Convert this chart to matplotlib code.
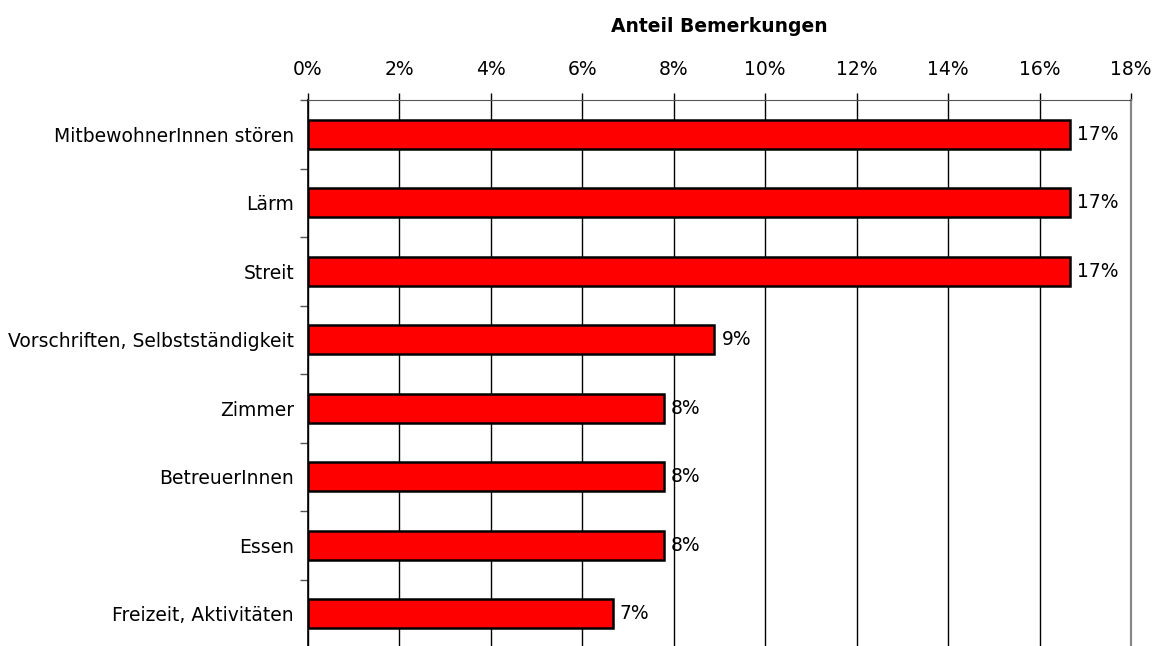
import matplotlib
matplotlib.use("Agg")
import matplotlib.pyplot as plt
from matplotlib.ticker import FixedLocator, FuncFormatter

categories = ["MitbewohnerInnen stören", "Lärm", "Streit",
              "Vorschriften, Selbstständigkeit", "Zimmer", "BetreuerInnen",
              "Essen", "Freizeit, Aktivitäten"]
values = [16.67, 16.67, 16.67, 8.89, 7.78, 7.78, 7.78, 6.67]
labels = ["17%", "17%", "17%", "9%", "8%", "8%", "8%", "7%"]
xticks = [0, 2, 4, 6, 8, 10, 12, 14, 16, 18]

plt.rcParams['font.family'] = ['DejaVu Sans']
fig = plt.figure(figsize=(11.59, 6.46), dpi=100)
ax = fig.add_axes([308/1159, -2/646, (1131-308)/1159, 548/646])

FS = 13.5
n = len(categories)
ypos = list(range(n))
ax.barh(ypos, values, height=0.42, color="#ff0000", edgecolor="black",
        linewidth=1.8, zorder=3)
ax.set_ylim(n - 0.5, -0.5)
ax.set_xlim(0, 18)

for y, v, lab in zip(ypos, values, labels):
    ax.annotate(lab, (v, y), xytext=(5, 0), textcoords="offset points",
                va="center", ha="left", fontsize=FS)

ax.xaxis.tick_top()
ax.xaxis.set_label_position("top")
ax.set_xticks(xticks)
ax.xaxis.set_major_formatter(FuncFormatter(lambda x, p: f"{int(x)}%"))
ax.tick_params(axis="x", labelsize=FS, length=5, width=1, pad=10,
               colors="black")
ax.set_xlabel("Anteil Bemerkungen", fontsize=FS, fontweight="bold",
              labelpad=20)

ax.set_yticks(ypos)
ax.set_yticklabels(categories, fontsize=FS)
ax.tick_params(axis="y", which="major", length=0, pad=10)
ax.yaxis.set_minor_locator(FixedLocator([i - 0.5 for i in range(n + 1)]))
ax.tick_params(axis="y", which="minor", length=6, width=1, color="#555555")

ax.grid(axis="x", color="black", linewidth=1, zorder=0)
ax.spines["bottom"].set_visible(False)
ax.spines["top"].set_color("#555555")
ax.spines["right"].set_color("#888888")
ax.spines["right"].set_linewidth(1.6)
ax.spines["left"].set_color("black")
ax.spines["left"].set_linewidth(1.2)

fig.savefig("out.png", dpi=100)
